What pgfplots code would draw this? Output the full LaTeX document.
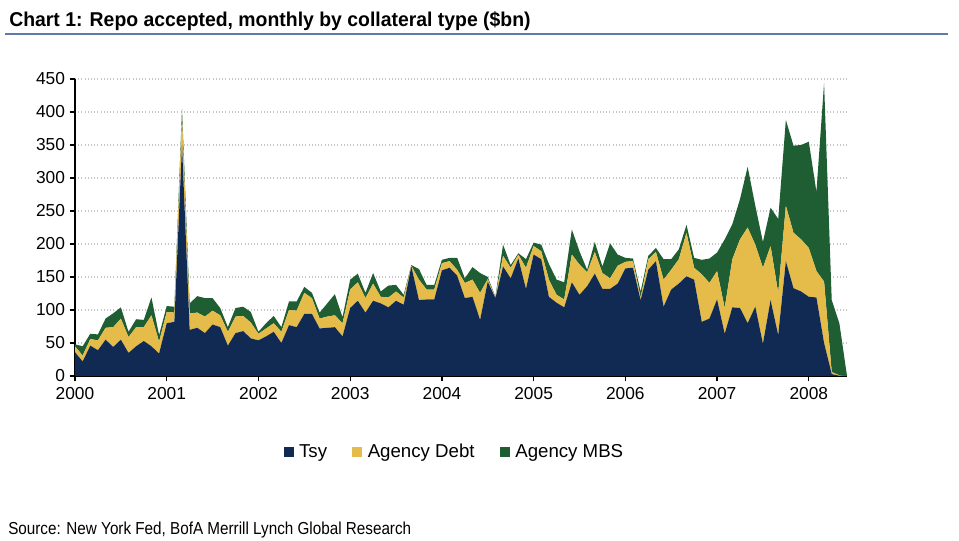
\documentclass[border=0pt]{standalone}
\usepackage{fontspec}
\setmainfont{Liberation Sans}
\newfontfamily\narrowfont[FakeStretch=0.88]{Liberation Sans}
\newfontfamily\titlefont[FakeStretch=0.97]{Liberation Sans}
\usepackage{pgfplots}
\usepackage{pgfplotstable}
\pgfplotsset{compat=1.18}
\definecolor{tsy}{RGB}{16,42,84}
\definecolor{adebt}{RGB}{229,187,74}
\definecolor{ambs}{RGB}{30,94,50}
\definecolor{rulecol}{RGB}{92,124,166}
\pgfplotstableread{
m T D M
0 36 9 3
1 22 9 14
2 46 10 8
3 39 15 9
4 55 18 14
5 44 30 21
6 55 32 17
7 35 24 8
8 45 29 12
9 53 21 11
10 45 47 27
11 34 18 10
12 80 17 9
13 82 14 9
14 350 40 15
15 70 25 15
16 73 23 25
17 65 25 28
18 78 21 19
19 74 18 11
20 46 21 7
21 65 25 13
22 68 23 14
23 57 24 16
24 54 10 3
25 60 12 8
26 67 13 11
27 50 17 7
28 77 23 13
29 74 25 14
30 94 32 9
31 94 24 8
32 72 15 9
33 73 17 20
34 74 18 32
35 60 20 9
36 103 28 15
37 114 28 13
38 96 22 8
39 114 26 16
40 110 10 8
41 104 15 18
42 114 14 10
43 108 11 4
44 166 1 1
45 115 31 16
46 116 15 7
47 116 15 7
48 160 11 5
49 164 10 5
50 152 9 18
51 118 23 7
52 120 26 19
53 85 41 30
54 143 4 3
55 118 1 1
56 166 16 17
57 148 16 4
58 178 6 2
59 132 32 13
60 184 13 5
61 177 12 10
62 120 26 24
63 111 12 23
64 104 12 26
65 142 42 38
66 123 46 20
67 136 21 4
68 155 33 15
69 132 24 10
70 132 16 53
71 140 27 17
72 163 10 6
73 164 10 4
74 115 4 9
75 161 16 5
76 174 14 6
77 105 41 31
78 131 30 16
79 140 37 15
80 151 66 12
81 146 18 15
82 82 72 22
83 87 54 37
84 116 43 28
85 64 39 104
86 104 73 53
87 103 104 61
88 80 145 92
89 105 94 59
90 49 115 39
91 115 82 58
92 62 64 112
93 174 84 130
94 133 84 132
95 128 79 143
96 120 74 161
97 119 40 120
98 50 93 301
99 3 3 109
100 0 1 79
101 0 0 0
}\repo
\begin{document}
\begin{tikzpicture}
\useasboundingbox (0pt,0pt) rectangle (719.25pt,405.75pt);
\node[anchor=base west, inner sep=0pt, font=\fontsize{15}{18}\selectfont\titlefont\bfseries] at (6.75pt,385.5pt) {Chart 1: Repo accepted, monthly by collateral type (\$bn)};
\draw[rulecol, line width=1.5pt] (3.75pt,379.9pt) -- (711pt,379.9pt);
\node[anchor=base west, inner sep=0pt, font=\fontsize{13}{15}\selectfont\narrowfont] at (6pt,4.5pt) {Source: New York Fed, BofA Merrill Lynch Global Research};
\begin{axis}[
  at={(56.25pt,123.75pt)}, anchor=south west,
  scale only axis, width=579pt, height=222.75pt,
  xmin=0, xmax=101, ymin=0, ymax=450,
  stack plots=y,
  axis x line*=bottom, axis y line*=left,
  axis line style={black, line width=1.2pt, -},
  xtick={0,12,...,96},
  xticklabels={2000,2001,2002,2003,2004,2005,2006,2007,2008},
  ytick={0,50,...,450},
  tick align=outside,
  major tick length=4pt,
  tick style={black, line width=1pt},
  ymajorgrids=true,
  major grid style={gray!45, dotted, line width=0.9pt},
  tick label style={font=\fontsize{13}{15}\selectfont},
  /pgf/number format/assume math mode=true,
  /pgf/number format/1000 sep={},
  xticklabel style={yshift=-1pt},
  legend columns=3,
  legend style={at={(0.492,-0.256)}, anchor=center, draw=none, fill=none,
    font=\fontsize{14}{17}\selectfont,
    /tikz/every odd column/.append style={column sep=2pt},
    /tikz/every even column/.append style={column sep=17pt}},
  legend image code/.code={\fill[#1, draw=none] (0pt,-3.75pt) rectangle (7.5pt,3.75pt);},
]
\addplot[fill=tsy, draw=none] table[x=m, y=T] {\repo} \closedcycle;
\addlegendentry{Tsy}
\addplot[fill=adebt, draw=none] table[x=m, y=D] {\repo} \closedcycle;
\addlegendentry{Agency Debt}
\addplot[fill=ambs, draw=none] table[x=m, y=M] {\repo} \closedcycle;
\addlegendentry{Agency MBS}
\end{axis}
\end{tikzpicture}
\end{document}
